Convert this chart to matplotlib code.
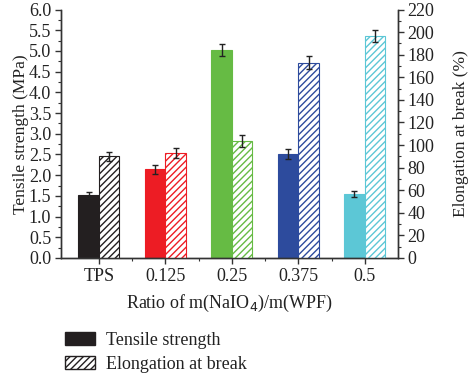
import matplotlib
matplotlib.use("Agg")
import matplotlib.pyplot as plt
import numpy as np
from matplotlib.patches import Patch
from matplotlib.ticker import MultipleLocator, FixedLocator

plt.rcParams['font.family'] = ['Liberation Serif', 'DejaVu Serif']
plt.rcParams['hatch.linewidth'] = 1.0

categories = ["TPS", "0.125", "0.25", "0.375", "0.5"]
tensile = [1.52, 2.14, 5.02, 2.52, 1.54]
tensile_err = [0.07, 0.10, 0.15, 0.12, 0.07]
elong = [90, 93.3, 103.5, 173, 196.5]
elong_err = [4, 4.5, 5, 5.5, 5]
colors = ["#231f20", "#ed1c24", "#66bb44", "#2d4b9d", "#5cc7d6"]

FS = 13
LFS = 12.5

fig = plt.figure(figsize=(4.74, 3.78), dpi=100)
ax = fig.add_axes([61/474, 1-258/378, (398-61)/474, (258-9.5)/378])
ax2 = ax.twinx()

x = np.arange(len(categories))
w = 0.31
ax.bar(x - w/2, tensile, width=w, color=colors, edgecolor=colors, linewidth=0.8, zorder=2)
ax.errorbar(x - w/2, tensile, yerr=tensile_err, fmt='none', ecolor='#222222',
            elinewidth=1.0, capsize=2.5, capthick=1.0, zorder=3)
ax2.bar(x + w/2, elong, width=w, color='white', edgecolor=colors, hatch='/////',
        linewidth=0.8, zorder=2)
ax2.errorbar(x + w/2, elong, yerr=elong_err, fmt='none', ecolor='#222222',
             elinewidth=1.0, capsize=2.5, capthick=1.0, zorder=3)

ax.set_xlim(-0.57, 4.5)
ax.set_ylim(0, 6.0)
ax2.set_ylim(0, 220)
ax.set_xticks(x)
ax.set_xticklabels(categories)
ax.xaxis.set_minor_locator(FixedLocator(x[:-1] + 0.5))
ax.yaxis.set_major_locator(MultipleLocator(0.5))
ax.yaxis.set_minor_locator(MultipleLocator(0.25))
ax.yaxis.set_major_formatter(matplotlib.ticker.FormatStrFormatter('%.1f'))
ax2.yaxis.set_major_locator(MultipleLocator(20))
ax2.yaxis.set_minor_locator(MultipleLocator(10))

for a in (ax, ax2):
    a.spines['top'].set_visible(False)
    for s in a.spines.values():
        s.set_linewidth(1.0)
        s.set_color('#333333')
    a.tick_params(which='major', length=4, width=1.0, labelsize=FS, colors='#333333',
                  labelcolor='#222222', pad=3)
    a.tick_params(which='minor', length=2, width=0.8, colors='#333333')

ax.set_ylabel("Tensile strength (MPa)", fontsize=LFS, color='#222222', labelpad=0)
ax2.set_ylabel("Elongation at break (%)", fontsize=LFS, color='#222222', labelpad=13)
ax.set_xlabel("Ratio of m(NaIO$_4$)/m(WPF)", fontsize=FS, color='#222222', labelpad=6)

handles = [Patch(facecolor='#231f20', edgecolor='#231f20', label='Tensile strength'),
           Patch(facecolor='white', edgecolor='#231f20', hatch='/////', label='Elongation at break')]
fig.legend(handles=handles, loc='upper left', bbox_to_anchor=(65/474, 1-332/378),
           frameon=False, fontsize=FS, handlelength=1.65, handleheight=0.75,
           labelspacing=0.38, handletextpad=0.6, borderpad=0, borderaxespad=0,
           labelcolor='#222222')

fig.savefig("out.png", dpi=100)
